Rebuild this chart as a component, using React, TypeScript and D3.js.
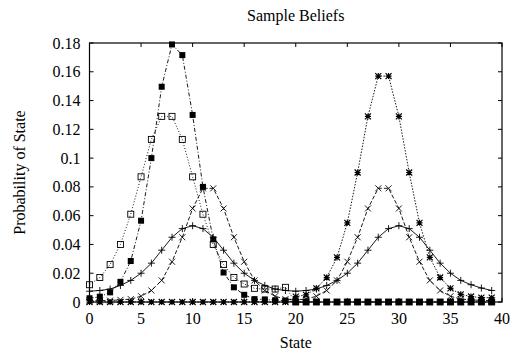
import React from 'react';
import * as d3 from 'd3';

const states = d3.range(0, 40);

// '+' solid line, two broad modes
const plusBelief = [
  0.0075, 0.008, 0.009, 0.0115, 0.015, 0.02, 0.027, 0.036, 0.045, 0.051,
  0.053, 0.051, 0.045, 0.036, 0.027, 0.02, 0.015, 0.0115, 0.009, 0.008,
  0.0075, 0.008, 0.009, 0.0115, 0.015, 0.02, 0.027, 0.036, 0.045, 0.051,
  0.053, 0.051, 0.045, 0.036, 0.027, 0.02, 0.015, 0.012, 0.0097, 0.008,
];

// 'x' dashed line, two narrower modes
const crossBelief = [
  0.001, 0.001, 0.001, 0.0015, 0.002, 0.004, 0.008, 0.015, 0.028, 0.045,
  0.065, 0.079, 0.079, 0.065, 0.045, 0.028, 0.015, 0.008, 0.004, 0.002,
  0.0015, 0.002, 0.004, 0.008, 0.015, 0.028, 0.045, 0.065, 0.079, 0.079,
  0.065, 0.045, 0.028, 0.015, 0.008, 0.004, 0.002, 0.0015, 0.001, 0.001,
];

// '*' short dashes, right peak only
const starBelief = [
  0, 0, 0, 0, 0, 0, 0, 0, 0, 0,
  0, 0, 0, 0, 0, 0, 0, 0, 0, 0,
  0.0037, 0.005, 0.0095, 0.017, 0.031, 0.055, 0.09, 0.129, 0.157, 0.157,
  0.129, 0.09, 0.055, 0.031, 0.017, 0.0095, 0.0053, 0.0038, 0.003, 0.003,
];

// open box, dotted, left peak
const boxBelief = [
  0.012, 0.017, 0.026, 0.04, 0.061, 0.087, 0.113, 0.129, 0.129, 0.113,
  0.087, 0.061, 0.04, 0.026, 0.017, 0.0125, 0.0095, 0.009, 0.009, 0.0102,
  0, 0, 0, 0, 0, 0, 0, 0, 0, 0,
  0, 0, 0, 0, 0, 0, 0, 0, 0, 0,
];

// filled box, dash-dot, sharp left peak
const filledBoxBelief = [
  0.0026, 0.0037, 0.0067, 0.014, 0.0285, 0.0565, 0.1, 0.1496, 0.179, 0.1716,
  0.13, 0.08, 0.0435, 0.0205, 0.0102, 0.005, 0.002, 0.0018, 0.0012, 0.001,
  0, 0, 0, 0, 0, 0, 0, 0, 0, 0,
  0, 0, 0, 0, 0, 0, 0, 0, 0, 0,
];

const xTicks = [0, 5, 10, 15, 20, 25, 30, 35, 40];
const yTicks = [0, 0.02, 0.04, 0.06, 0.08, 0.1, 0.12, 0.14, 0.16, 0.18];
const yTickLabels = ['0', '0.02', '0.04', '0.06', '0.08', '0.1', '0.12', '0.14', '0.16', '0.18'];

const width = 511;
const height = 352;
const margin = { top: 43, right: 9, bottom: 50, left: 89.5 };
const font = '"Liberation Serif", "Times New Roman", serif';
const fontSize = 16;

const marker = (kind: string, r: number) => {
  if (kind === 'plus') return <path d={`M${-r},0H${r}M0,${-r}V${r}`} stroke="#000" strokeWidth={0.9} fill="none" />;
  if (kind === 'cross') return <path d={`M${-r},${-r}L${r},${r}M${-r},${r}L${r},${-r}`} stroke="#000" strokeWidth={0.9} fill="none" />;
  if (kind === 'star')
    return (
      <path
        d={`M${-r},0H${r}M0,${-r}V${r}M${-r},${-r}L${r},${r}M${-r},${r}L${r},${-r}`}
        stroke="#000"
        strokeWidth={1.2}
        fill="none"
      />
    );
  if (kind === 'box') return <rect x={-r} y={-r} width={2 * r} height={2 * r} stroke="#000" strokeWidth={0.9} fill="none" />;
  return <rect x={-r} y={-r} width={2 * r} height={2 * r} fill="#000" />;
};

const series = [
  { values: plusBelief, kind: 'plus', dash: null, r: 3.5 },
  { values: crossBelief, kind: 'cross', dash: '4,2', r: 3 },
  { values: starBelief, kind: 'star', dash: '1.5,1.5', r: 3 },
  { values: boxBelief, kind: 'box', dash: '1,2', r: 3 },
  { values: filledBoxBelief, kind: 'filled', dash: '4,2,1,2', r: 3 },
];

export default function App() {
  const x = d3.scaleLinear().domain([0, 40]).range([margin.left, width - margin.right]);
  const y = d3.scaleLinear().domain([0, 0.18]).range([height - margin.bottom, margin.top]);
  const line = d3
    .line<number>()
    .x((_, i) => x(states[i]))
    .y((d) => y(d));
  const x0 = x(0);
  const x1 = x(40);
  const y0 = y(0);
  const y1 = y(0.18);
  const tick = 4;

  return (
    <svg
      width={width}
      height={height}
      style={{ position: 'absolute', left: 0, top: 0, background: '#fff' }}
      fontFamily={font}
    >
      <rect width={width} height={height} fill="#fff" />
      <text x={(x0 + x1) / 2} y={21} textAnchor="middle" fontSize={fontSize}>
        Sample Beliefs
      </text>

      {series.map((s, k) => (
        <g key={k}>
          <path
            d={line(s.values) || ''}
            fill="none"
            stroke="#000"
            strokeWidth={0.9}
            strokeDasharray={s.dash || undefined}
          />
          {s.values.map((v, i) => (
            <g key={i} transform={`translate(${x(states[i])},${y(v)})`}>
              {marker(s.kind, s.r)}
            </g>
          ))}
        </g>
      ))}

      <rect x={x0} y={y1} width={x1 - x0} height={y0 - y1} fill="none" stroke="#000" strokeWidth={1.2} />
      {xTicks.map((t) => (
        <g key={'x' + t}>
          <line x1={x(t)} x2={x(t)} y1={y0} y2={y0 - tick} stroke="#000" />
          <line x1={x(t)} x2={x(t)} y1={y1} y2={y1 + tick} stroke="#000" />
          <text x={x(t)} y={y0 + 22} textAnchor="middle" fontSize={fontSize}>
            {t}
          </text>
        </g>
      ))}
      {yTicks.map((t, i) => (
        <g key={'y' + t}>
          <line x1={x0} x2={x0 + tick} y1={y(t)} y2={y(t)} stroke="#000" />
          <line x1={x1} x2={x1 - tick} y1={y(t)} y2={y(t)} stroke="#000" />
          <text x={x0 - 9} y={y(t) + 5.5} textAnchor="end" fontSize={fontSize}>
            {yTickLabels[i]}
          </text>
        </g>
      ))}

      <text x={(x0 + x1) / 2} y={348} textAnchor="middle" fontSize={fontSize}>
        State
      </text>
      <text
        transform={`translate(25,${(y0 + y1) / 2}) rotate(-90)`}
        textAnchor="middle"
        fontSize={fontSize}
      >
        Probability of State
      </text>
    </svg>
  );
}
